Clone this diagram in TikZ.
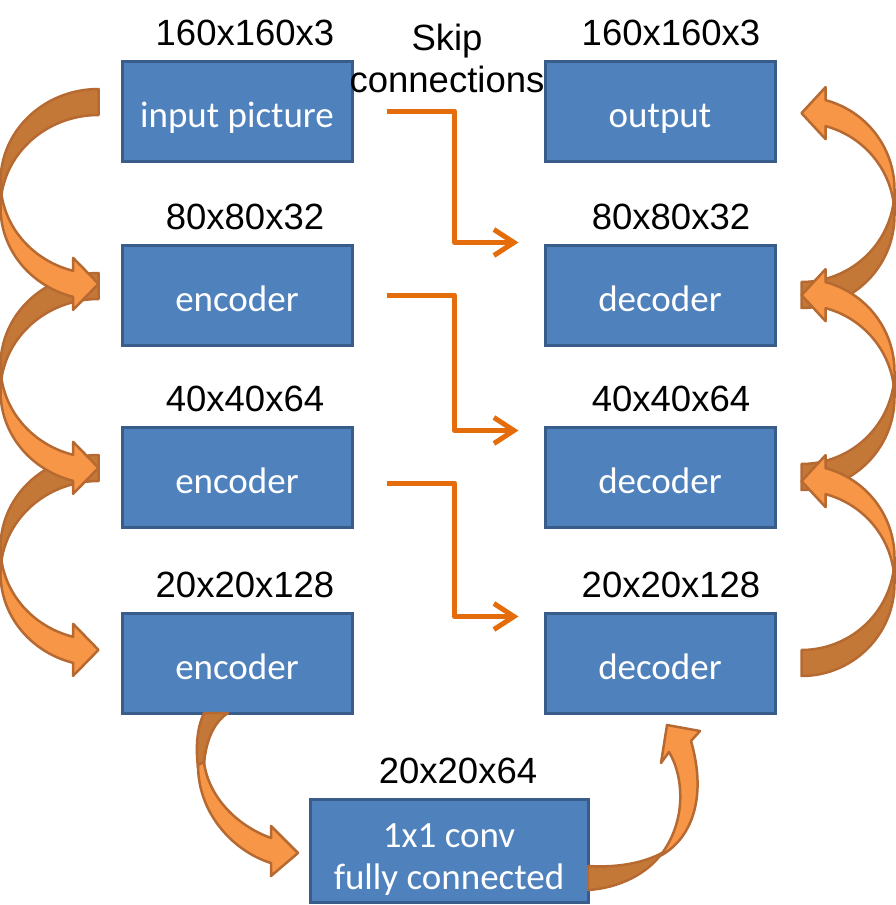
\documentclass[tikz,border=0pt]{standalone}
\usepackage{fontspec}
\setmainfont{Liberation Sans}
\newfontfamily\boxfont{Carlito}
\usetikzlibrary{arrows.meta,positioning}

\definecolor{boxblue}{HTML}{4F81BD}
\definecolor{boxline}{HTML}{385D8A}
\definecolor{skiporange}{HTML}{E46C0A}
\definecolor{arrowlight}{HTML}{F79646}
\definecolor{arrowdark}{HTML}{C47838}
\definecolor{arrowline}{HTML}{B66A32}

\tikzset{
  box/.style={draw=boxline, fill=boxblue, line width=3pt, minimum width=230pt, minimum height=100pt,
    text=white, font=\boxfont\fontsize{37}{42}\selectfont, align=center, inner sep=0pt,
    text height=32pt, text depth=0pt},
  sizelabel/.style={font=\fontsize{36.5}{42}\selectfont, inner sep=0pt, align=center},
  skiparrow/.style={draw=skiporange, line width=5pt, line join=round, -{Straight Barb[length=20pt,width=26pt]}},
  bendfill/.style={draw=arrowline, line width=2.5pt, line join=round},
  bend arrow/.pic={
    \path[bendfill, fill=arrowdark] plot[domain=0:90, samples=40] ({#1*cos(270-\x)}, {92.5+92.5*sin(270-\x)})
      -- plot[domain=0:90, samples=40] ({#1*cos(180+\x)}, {118.5+92.5*sin(180+\x)}) -- cycle;
    \path[bendfill, fill=arrowlight] plot[domain=0:75, samples=40] ({#1*cos(180-\x)}, {92.5+92.5*sin(180-\x)})
      -- ({#1*cos(105)}, 168.85) -- (0, 194.85) -- ({#1*cos(105)}, 220.85)
      -- plot[domain=0:75, samples=40] ({#1*cos(105+\x)}, {118.5+92.5*sin(105+\x)}) -- cycle;
  }
}

\begin{document}
\begin{tikzpicture}[x=1pt, y=-1pt]
  \useasboundingbox (0,0) rectangle (896,905);

  % blocks
  \node[box] (in) at (237,111) {input picture};
  \node[box] (enc1) at (237,295) {encoder};
  \node[box] (enc2) at (237,477) {encoder};
  \node[box] (enc3) at (237,663) {encoder};
  \node[box] (out) at (660,111) {output};
  \node[box] (dec1) at (660,295) {decoder};
  \node[box] (dec2) at (660,477) {decoder};
  \node[box] (dec3) at (660,663) {decoder};
  \node[box, minimum width=278pt, minimum height=103pt, text height=76pt] (conv) at (449,851) {1x1 conv\\fully connected};

  % sizes
  \node[sizelabel] (lin) at ([xshift=8pt, yshift=27pt]in.north) {160x160x3};
  \node[sizelabel] (lenc1) at ([xshift=8pt, yshift=27pt]enc1.north) {80x80x32};
  \node[sizelabel] (lenc2) at ([xshift=8pt, yshift=27pt]enc2.north) {40x40x64};
  \node[sizelabel] (lenc3) at ([xshift=8pt, yshift=27pt]enc3.north) {20x20x128};
  \node[sizelabel] (lout) at ([xshift=11pt, yshift=27pt]out.north) {160x160x3};
  \node[sizelabel] (ldec1) at ([xshift=11pt, yshift=27pt]dec1.north) {80x80x32};
  \node[sizelabel] (ldec2) at ([xshift=11pt, yshift=27pt]dec2.north) {40x40x64};
  \node[sizelabel] (ldec3) at ([xshift=11pt, yshift=27pt]dec3.north) {20x20x128};
  \node[sizelabel] (lconv) at ([xshift=9pt, yshift=27pt]conv.north) {20x20x64};
  \node[sizelabel] (skip) at (447,58) {Skip\\connections};

  % skip connections
  \draw[skiparrow] ([xshift=33pt]in.east) -- ++(68,0) |- ([xshift=-25pt, yshift=1pt]dec1.north west);
  \draw[skiparrow] ([xshift=33pt]enc1.east) -- ++(68,0) |- ([xshift=-25pt, yshift=-5pt]dec2.north west);
  \draw[skiparrow] ([xshift=33pt, yshift=-6pt]enc2.east) -- ++(68,0) |- ([xshift=-25pt, yshift=-5pt]dec3.north west);

  % encoder side
  \pic at ([xshift=-22pt, yshift=22pt]enc2.west) {bend arrow=98};
  \pic at ([xshift=-22pt, yshift=22pt]enc1.west) {bend arrow=98};
  \pic at ([xshift=-22pt, yshift=22pt]in.west) {bend arrow=98};

  % decoder side
  \pic[rotate=180] at ([xshift=25pt, yshift=-13pt]dec1.east) {bend arrow=93};
  \pic[rotate=180] at ([xshift=25pt, yshift=-13pt]dec2.east) {bend arrow=93};
  \pic[rotate=180] at ([xshift=25pt, yshift=-13pt]dec3.east) {bend arrow=93};

  % bottom
  \path[bendfill, fill=arrowdark] (204,713) .. controls (196,730) and (196,750) .. (198,768)
    -- (204,764) .. controls (206,740) and (214,722) .. (228,713) -- cycle;
  \path[bendfill, fill=arrowlight] (198,765) .. controls (198,815) and (235,852) .. (271,863)
    -- (271,876) -- (298,853) -- (271,826) -- (271,838) .. controls (235,825) and (208,795) .. (204,762) -- cycle;
  \path[bendfill, fill=arrowdark] (588,866) .. controls (620,868) and (645,862) .. (662,853)
    .. controls (648,873) and (620,888) .. (588,890) -- cycle;
  \path[bendfill, fill=arrowlight] (660,856) .. controls (690,840) and (708,800) .. (691,741)
    -- (700,731) -- (667,725) -- (661,763) -- (669,752) .. controls (683,775) and (688,820) .. (660,856) -- cycle;
\end{tikzpicture}
\end{document}
